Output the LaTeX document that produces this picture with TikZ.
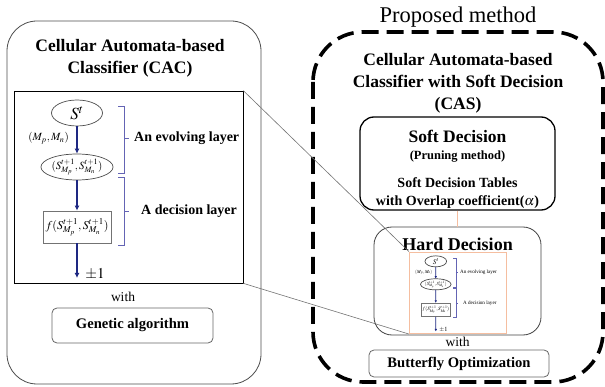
\documentclass[tikz,border=0pt]{standalone}
\usepackage{mathptmx}
\usepackage{fontspec}
\setmainfont{Liberation Serif}
\usetikzlibrary{shapes.geometric,arrows.meta}
\definecolor{navy}{RGB}{30,40,130}
\definecolor{bracecol}{RGB}{100,100,180}
\definecolor{peach}{RGB}{245,190,160}
\tikzset{
  flow/.style={navy, line width=1.8pt, -{Latex[length=5pt,width=5pt]}},
  brace/.style={bracecol, line width=0.7pt},
  stnode/.style={ellipse, draw=black!70, line width=0.7pt, minimum width=51pt, minimum height=26pt, inner sep=0pt, font=\fontsize{17}{19}\selectfont},
  snode/.style={ellipse, draw=black!70, line width=0.7pt, minimum width=63pt, minimum height=26pt, inner sep=0pt, font=\fontsize{11}{13}\selectfont},
  fnode/.style={rectangle, draw=black!55, line width=0.8pt, minimum width=68pt, minimum height=32pt, inner sep=0pt, font=\fontsize{12}{14}\selectfont},
  mlabel/.style={inner sep=0pt, font=\fontsize{11}{13}\selectfont},
  pmlabel/.style={inner sep=0pt, font=\fontsize{15}{17}\selectfont},
  layerlabel/.style={inner sep=0pt, font=\fontsize{14}{16}\selectfont\bfseries},
  bigbox/.style={draw=black!70, line width=0.8pt, rounded corners=30pt},
  dashbox/.style={draw=black, line width=3.6pt, rounded corners=50pt, dash pattern=on 17pt off 8pt},
  titletext/.style={align=center, inner sep=0pt, font=\fontsize{17.5}{22}\selectfont\bfseries},
  withtext/.style={inner sep=0pt, font=\fontsize{13.5}{15}\selectfont},
  algbox/.style={draw=black!60, line width=0.8pt, rounded corners=5pt, font=\fontsize{14.6}{16}\selectfont\bfseries},
  zoomline/.style={draw=black!55, line width=0.6pt},
}
\newcommand{\cacbody}[1]{%
  \node[stnode] (#1s) at (77,113) {$S^t$};
  \node[snode] (#1e) at (77,167) {$(S^{t+1}_{M_p},S^{t+1}_{M_n})$};
  \node[fnode] (#1f) at (77,227) {$f(S^{t+1}_{M_p},S^{t+1}_{M_n})$};
  \coordinate (#1end) at (77,278);
  \draw[flow] (#1s) -- (#1e);
  \draw[flow] (#1e) -- (#1f);
  \draw[flow] (#1f) -- (#1end);
  \node[mlabel, anchor=east] (#1mm) at (69,138) {$(M_p,M_n)$};
  \node[pmlabel] (#1pm) at (95,274) {$\pm1$};
  \draw[brace] (118,106) -- (124,106) -- (124,173) -- (118,173) (124,138) -- (129,138);
  \draw[brace] (118,177) -- (124,177) -- (124,245) -- (118,245) (124,211) -- (129,211);
  \node[layerlabel, anchor=west] (#1l1) at (134,138) {An evolving layer};
  \node[layerlabel, anchor=west] (#1l2) at (141,211) {A decision layer};
}
\begin{document}
\begin{tikzpicture}[x=1pt,y=-1pt]
\useasboundingbox (0,0) rectangle (605,387);
% left panel
\draw[bigbox] (7,21) rectangle (261,384);
\node[titletext] (ltitle) at (130,58.5) {Cellular Automata-based\\Classifier (CAC)};
\node[draw=black, line width=0.7pt, minimum width=229pt, minimum height=192pt, inner sep=0pt] (frame) at (128.5,187) {};
\cacbody{a}
\node[withtext] (lwith) at (123,297) {with};
\node[algbox, minimum width=161pt, minimum height=35pt] (ga) at (132.5,325.5) {Genetic algorithm};
% right panel
\node[inner sep=0pt, font=\fontsize{22.5}{24}\selectfont] (pm) at (458,17) {Proposed method};
\draw[dashbox] (313,32) rectangle (603,382);
\node[titletext] (rtitle) at (458,83.5) {Cellular Automata-based\\Classifier with Soft Decision\\(CAS)};
\node[draw=black, line width=1.3pt, rounded corners=14pt, minimum width=195pt, minimum height=93pt] (soft) at (457.5,163.5) {};
\node[inner sep=0pt, font=\fontsize{17.5}{19}\selectfont\bfseries] (softt) at (457.5,136) {Soft Decision};
\node[inner sep=0pt, font=\fontsize{12.5}{14}\selectfont\bfseries] (prune) at (457.5,157) {(Pruning method)};
\node[inner sep=0pt, align=center, font=\fontsize{14}{18.5}\selectfont\bfseries] (tables) at (457.5,193) {Soft Decision Tables\\with Overlap coefficient($\alpha$)};
\node[draw=black!75, line width=0.8pt, rounded corners=18pt, minimum width=167pt, minimum height=108pt] (hard) at (457.5,281) {};
\draw[peach, line width=1pt] (soft.south) -- (hard.north);
\node[inner sep=0pt, font=\fontsize{18}{20}\selectfont\bfseries] (hardt) at (457.5,244) {Hard Decision};
\node[draw=peach, fill=white, line width=0.9pt, minimum width=97.3pt, minimum height=81.6pt, inner sep=0pt] (mini) at (458,292.8) {};
\begin{scope}[shift={(409,252)}, scale=0.425, shift={(-14,-91)}, transform shape,
  flow/.style={navy, line width=0.8pt, -{Latex[length=2.5pt,width=2.5pt]}},
  brace/.style={bracecol, line width=0.4pt},
  layerlabel/.style={inner sep=0pt, font=\fontsize{12}{14}\selectfont}]
  \cacbody{b}
\end{scope}
\node[withtext] (rwith) at (457.5,342) {with};
\node[algbox, minimum width=180pt, minimum height=27pt] (bo) at (459,363.5) {Butterfly Optimization};
% zoom lines
\draw[zoomline] (frame.north east) -- (mini.north west);
\draw[zoomline] (frame.south east) -- (mini.south west);
\end{tikzpicture}
\end{document}
